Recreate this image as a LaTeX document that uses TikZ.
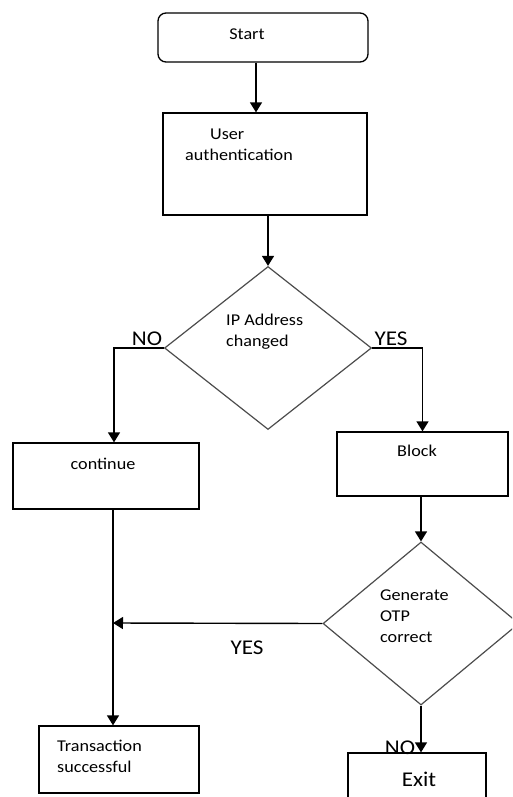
\documentclass[tikz,border=0pt]{standalone}
\usepackage{fontspec}
\setmainfont{Carlito}[FakeStretch=1.1]
\usepackage{tikz}
\usetikzlibrary{positioning, shapes.geometric, arrows.meta}

\begin{document}
\begin{tikzpicture}[x=1pt, y=-1pt,
  box/.style={draw, line width=1.3pt, inner sep=0pt},
  decision/.style={diamond, draw=black!70, line width=1.2pt, inner sep=0pt},
  txt/.style={font=\fontsize{16.5}{21}\selectfont, inner sep=0pt, align=left},
  answer/.style={font=\fontsize{21}{24}\selectfont, inner sep=0pt},
  flow/.style={line width=1.4pt, -{Triangle[width=12pt,length=10pt]}}]
  \useasboundingbox (0,0) rectangle (512,797);
  \clip (0,0) rectangle (512,797);
  % boxes
  \node[box, rounded corners=8pt, minimum width=210pt, minimum height=49pt] (start) at (263,37.5) {};
  \node[box, minimum width=204pt, minimum height=102pt] (auth) at (265,164) {};
  \node[decision, minimum width=207pt, minimum height=163pt] (ipchk) at (268,348) {};
  \node[box, minimum width=186pt, minimum height=66pt] (cont) at (106,476) {};
  \node[box, minimum width=171pt, minimum height=64pt] (block) at (422.5,464) {};
  \node[decision, minimum width=196pt, minimum height=163pt] (otp) at (421,623.5) {};
  \node[box, minimum width=160pt, minimum height=67pt] (trans) at (119,759.5) {};
  \node[box, minimum width=138pt, minimum height=60pt] (exit) at (417,783) {};
  % texts
  \node[txt] (startTxt) at (247,34) {Start};
  \node[txt, anchor=west] (authTxt) at (185,145) {\hspace*{25pt}User\\authentication};
  \node[txt, anchor=west] (ipTxt) at (226,332) {IP Address\\changed};
  \node[txt] (contTxt) at (103,464) {continue};
  \node[txt] (blockTxt) at (417,451) {Block};
  \node[txt, anchor=west] (otpTxt) at (380,616) {Generate\\OTP\\correct};
  \node[txt, anchor=west] (transTxt) at (57,756) {Transaction\\successful};
  \node[answer] (exitTxt) at (419,779) {Exit};
  % answers
  \node[answer] (noA) at (147,339) {NO};
  \node[answer] (yesA) at (391,339) {YES};
  \node[answer] (yesB) at (247,648) {YES};
  \node[answer] (noB) at (400,748) {NO};
  % connectors
  \coordinate (join) at (113,623);
  \draw[flow] ([xshift=-7pt]start.south) -- ([xshift=-7pt]start.south |- auth.north);
  \draw[flow] (auth.south -| ipchk.north) -- (ipchk.north);
  \draw[flow] (ipchk.west) -| ([xshift=8pt]cont.north);
  \draw[flow] (ipchk.east) -| (block.north);
  \draw[flow] (block.south -| otp.north) -- (otp.north);
  \draw[flow] (otp.west) -- (join);
  \draw[flow] (cont.south -| join) -- (join |- trans.north);
  \draw[flow] (otp.south) -- (otp.south |- exit.north);
\end{tikzpicture}
\end{document}
